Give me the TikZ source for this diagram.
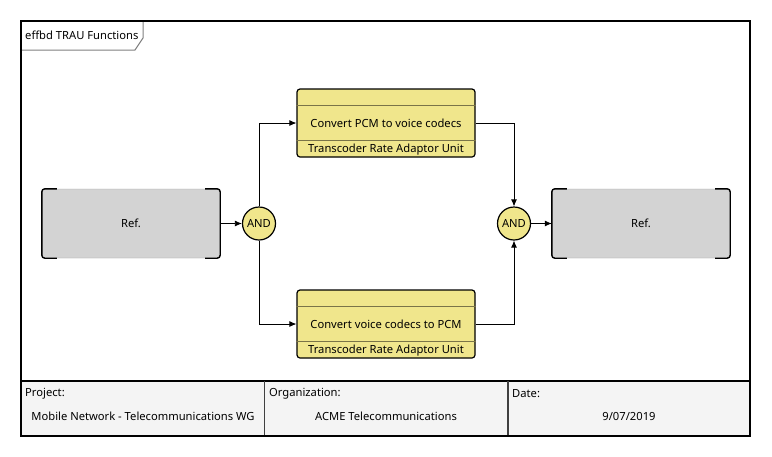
\documentclass[tikz,border=0pt]{standalone}
\usepackage{fontspec}
\setmainfont{Noto Sans}
\usetikzlibrary{arrows.meta}
\usetikzlibrary{positioning}

\definecolor{fnkhaki}{HTML}{F0E68C}
\definecolor{refgray}{HTML}{D3D3D3}
\definecolor{rimgray}{HTML}{A0A0A0}
\definecolor{bandline}{HTML}{7A7448}
\definecolor{footgray}{HTML}{F4F4F4}

\tikzset{
	refbox/.style={draw=rimgray, fill=refgray, rounded corners=3pt, minimum width=178pt, minimum height=69pt, inner sep=0pt},
	bracket/.style={line width=1.4pt, rounded corners=3pt},
	funcbox/.style={draw, fill=fnkhaki, line width=1.2pt, rounded corners=3pt, minimum width=178pt, minimum height=68pt, inner sep=0pt},
	band/.style={draw=bandline, line width=1.2pt},
	gate/.style={circle, draw, fill=fnkhaki, line width=1.2pt, minimum size=33pt, inner sep=0pt},
	flow/.style={-{Latex[length=7pt,width=6pt]}, line width=0.8pt},
	label/.style={inner sep=0pt}
}

\begin{document}
\begin{tikzpicture}[x=1pt, y=-1pt, font=\fontsize{11.2}{13}\selectfont]
	\useasboundingbox (0,0) rectangle (772,456);

	% frame and title tab
	\fill[white] (21,21) rectangle (750,436);
	\draw[gray, line width=1pt] (21,50) -- (135,50) -- (143,38) -- (143,21);
	\node[label, anchor=west] (title) at (25,35.5) {effbd TRAU Functions};

	% blocks
	\node[refbox] (refIn) at (131,223.5) {Ref.};
	\node[refbox] (refOut) at (641,223.5) {Ref.};
	\node[gate] (andSplit) at (259,223.5) {AND};
	\node[gate] (andJoin) at (514,223.5) {AND};
	\node[funcbox] (convA) at (386,123) {};
	\node[funcbox] (convB) at (386,324) {};

	\foreach \r in {refIn,refOut} {
		\draw[bracket] ([xshift=15pt]\r.north west) -- (\r.north west) -- (\r.south west) -- ([xshift=15pt]\r.south west);
		\draw[bracket] ([xshift=-15pt]\r.north east) -- (\r.north east) -- (\r.south east) -- ([xshift=-15pt]\r.south east);
	}

	\foreach \f in {convA,convB} {
		\draw[band] ([yshift=-17pt]\f.north west) -- ([yshift=-17pt]\f.north east);
		\draw[band] ([yshift=17pt]\f.south west) -- ([yshift=17pt]\f.south east);
		\node[label] (\f unit) at ([yshift=8.5pt]\f.south) {Transcoder Rate Adaptor Unit};
	}
	\node[label] (convAtext) at (convA) {Convert PCM to voice codecs};
	\node[label] (convBtext) at (convB) {Convert voice codecs to PCM};

	% flows
	\draw[flow] (refIn) -- (andSplit);
	\draw[flow] (andSplit) |- (convA);
	\draw[flow] (andSplit) |- (convB);
	\draw[flow] (convA) -| (andJoin);
	\draw[flow] (convB) -| (andJoin);
	\draw[flow] (andJoin) -- (refOut);

	% footer
	\filldraw[fill=footgray, line width=2pt] (21,381) rectangle (750,436);
	\draw[darkgray, line width=1.5pt] (264.5,381) -- (264.5,436);
	\draw[darkgray, line width=1.5pt] (508,381) -- (508,436);
	\node[label, anchor=west] (projKey) at (25,394) {Project:};
	\node[label] (projVal) at (143,416) {Mobile Network - Telecommunications WG};
	\node[label, anchor=west] (orgKey) at (269,394) {Organization:};
	\node[label] (orgVal) at (386,416) {ACME Telecommunications};
	\node[label, anchor=west] (dateKey) at (512,394) {Date:};
	\node[label] (dateVal) at (629,416) {9/07/2019};

	\draw[line width=2pt] (21,21) rectangle (750,436);
\end{tikzpicture}
\end{document}
